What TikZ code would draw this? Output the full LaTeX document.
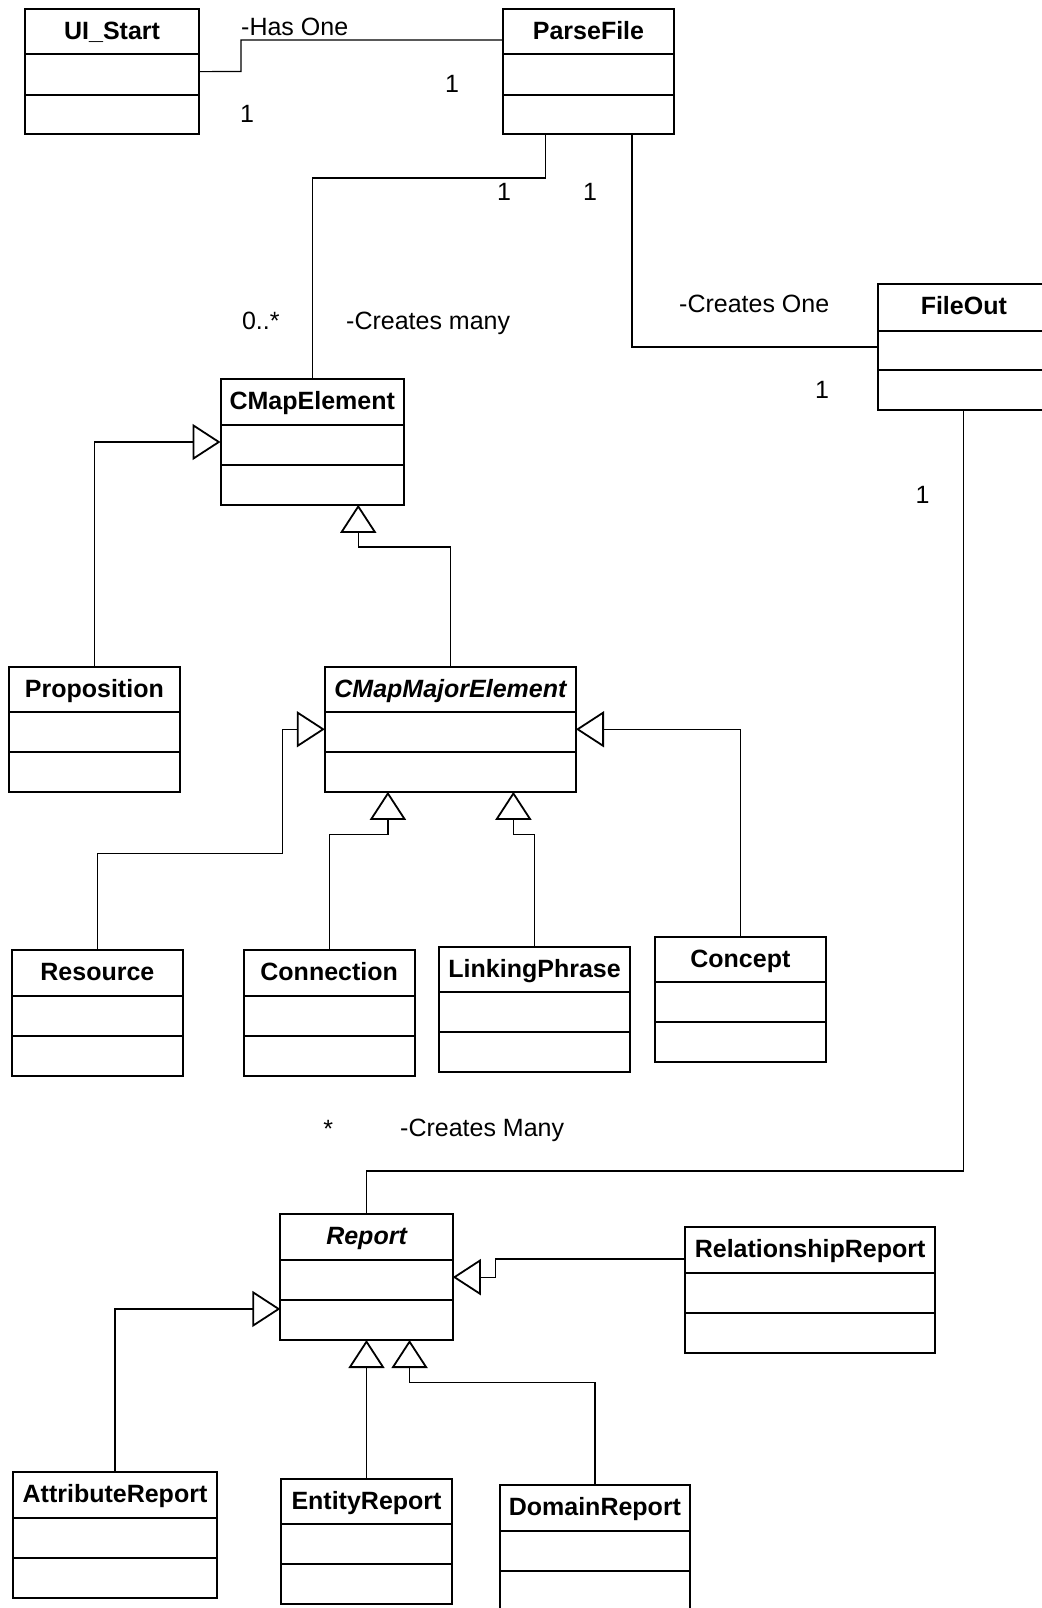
\documentclass[tikz,border=0pt]{standalone}
\usepackage{fontspec}
\setmainfont{Liberation Sans}
\usetikzlibrary{arrows.meta}
\tikzset{
 clsbox/.style={draw, line width=2pt, inner sep=0pt, outer sep=0pt},
 clsline/.style={line width=2pt},
 conn/.style={line width=1.2pt},
 inh/.style={conn, -{Triangle[open, length=28pt, width=36pt, line width=1.8pt]}},
 cname/.style={font=\fontsize{25}{30}\selectfont\bfseries, inner sep=0pt},
 aname/.style={font=\fontsize{25}{30}\selectfont\bfseries\itshape, inner sep=0pt},
 lbl/.style={font=\fontsize{25}{30}\selectfont, inner sep=0pt},
}
% id, left, top, right, line1, line2, bottom, title, title style
\newcommand\umlclass[9]{%
  \node[clsbox, anchor=north west, minimum width={(#4-#2)*1pt}, minimum height={(#7-#3)*1pt}] (#1) at (#2,#3) {};
  \draw[clsline] (#2,#5) -- (#4,#5) (#2,#6) -- (#4,#6);
  \node[#9, anchor=base] (#1-title) at ({(#2+#4)/2},{#3+30.5}) {#8};
}
\begin{document}
\begin{tikzpicture}[x=1pt,y=-1pt]
\useasboundingbox (0,0) rectangle (1041,1608);
% classes
\umlclass{ui}{25.4}{9}{198.7}{54}{95}{134.3}{UI\_Start}{cname}
\umlclass{pf}{502.7}{9}{674.3}{54}{95}{134.3}{ParseFile}{cname}
\umlclass{fo}{877.6}{284.3}{1050}{330.5}{370}{409.7}{FileOut}{cname}
\umlclass{cme}{220.5}{379.2}{404}{424.5}{464.5}{504.8}{CMapElement}{cname}
\umlclass{prop}{8.7}{666.7}{180}{711.9}{752.3}{791.8}{Proposition}{cname}
\umlclass{cmaj}{324.8}{666.7}{576}{711.9}{752.3}{791.8}{CMapMajorElement}{aname}
\umlclass{res}{11.8}{950}{183}{995.7}{1035.7}{1075.7}{Resource}{cname}
\umlclass{con}{243.6}{950}{414.7}{995.7}{1035.7}{1075.7}{Connection}{cname}
\umlclass{lp}{439.4}{946.7}{629.8}{992.3}{1032.3}{1072.3}{LinkingPhrase}{cname}
\umlclass{cpt}{654.5}{936.7}{826.2}{982.3}{1022.3}{1062.3}{Concept}{cname}
\umlclass{rep}{280.3}{1214.3}{452.8}{1260}{1300}{1340}{Report}{aname}
\umlclass{rr}{685}{1227.3}{935.2}{1273.3}{1313.3}{1353.3}{RelationshipReport}{cname}
\umlclass{ar}{13}{1472.3}{217}{1518.3}{1558}{1597.5}{AttributeReport}{cname}
\umlclass{er}{280.8}{1479}{452.2}{1524.3}{1564.3}{1604.3}{EntityReport}{cname}
\umlclass{dr}{499.6}{1485}{690.3}{1531}{1570.8}{1611}{DomainReport}{cname}
% associations
\draw[conn] (ui.east) -- (241,71.5) |- (pf.west |- 0,40);
\draw[conn] ([xshift=-43pt]pf.south) |- (cme.north |- 0,178) -- (cme.north);
\draw[conn] ([xshift=43.5pt]pf.south) |- (fo.west);
\draw[conn] (fo.south) |- (rep.north |- 0,1171) -- (rep.north);
% generalizations
\coordinate (cmeT) at ([xshift=46pt]cme.south);
\coordinate (cmajL) at ([xshift=-62.5pt]cmaj.south);
\coordinate (cmajR) at ([xshift=63pt]cmaj.south);
\coordinate (repL) at ([yshift=-31.8pt]rep.west);
\coordinate (repR) at ([xshift=43pt]rep.south);
\draw[inh] (prop.north) |- (cme.west);
\draw[inh] (cmaj.north) -- (cmaj.north |- 0,547) -| (cmeT);
\draw[inh] (res.north) -- (res.north |- 0,853.7) -- (282.5,853.7) |- (cmaj.west);
\draw[inh] (con.north) -- (con.north |- 0,834.3) -| (cmajL);
\draw[inh] (lp.north) -- (lp.north |- 0,834.3) -| (cmajR);
\draw[inh] (cpt.north) |- (cmaj.east);
\draw[inh] (rr.west |- 0,1259) -- (495.7,1259) |- (rep.east);
\draw[inh] (ar.north) |- (repL);
\draw[inh] (er.north) -- (er.north |- rep.south);
\draw[inh] (dr.north) -- (dr.north |- 0,1382.7) -| (repR);
% labels
\node[lbl, anchor=base west] (lHas) at (241,35.7) {-Has One};
\node[lbl, anchor=base] (m1) at (452,93) {1};
\node[lbl, anchor=base] (m2) at (247,123) {1};
\node[lbl, anchor=base] (m3) at (504,200.5) {1};
\node[lbl, anchor=base] (m4) at (590,200.5) {1};
\node[lbl, anchor=base] (m5) at (822,398) {1};
\node[lbl, anchor=base] (m6) at (922.6,503) {1};
\node[lbl, anchor=base west] (m7) at (241.8,329) {0..*};
\node[lbl, anchor=base west] (lCm) at (346,329) {-Creates many};
\node[lbl, anchor=base west] (lCo) at (679,312) {-Creates One};
\node[lbl, anchor=base] (m8) at (328.2,1137) {*};
\node[lbl, anchor=base west] (lCM) at (400,1136) {-Creates Many};
\end{tikzpicture}
\end{document}
